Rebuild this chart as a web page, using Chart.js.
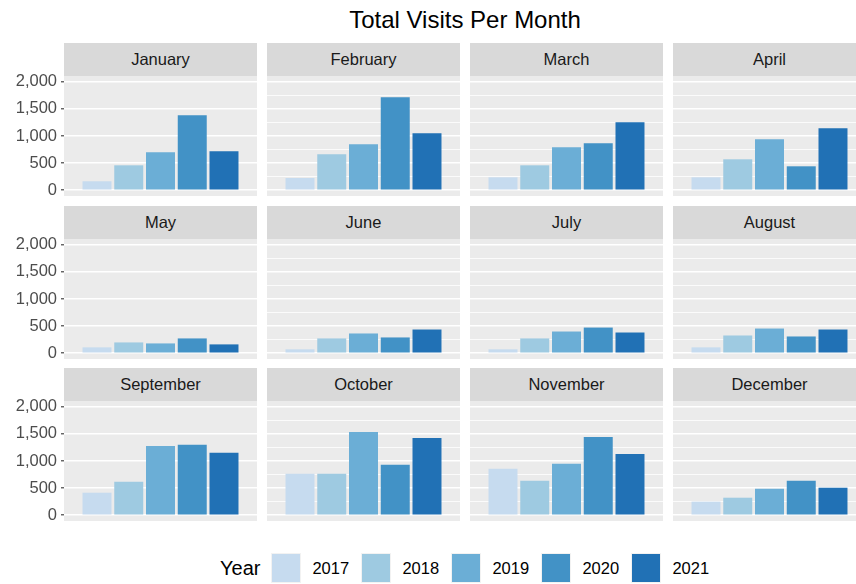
<!DOCTYPE html>
<html>
<head>
<meta charset="utf-8">
<script src="https://cdn.jsdelivr.net/npm/chart.js@4.4.1/dist/chart.umd.min.js"></script>
<style>
  html, body { margin: 0; padding: 0; background: #fff; }
  body { width: 856px; height: 584px; position: relative; overflow: hidden;
         font-family: "Liberation Sans", Arial, sans-serif; }
  #title { position: absolute; left: 64px; width: 802px; top: 6px; text-align: center;
           font-size: 24px; color: #000; }
  .strip { position: absolute; height: 33px; line-height: 33px; background: #D9D9D9;
           color: #1A1A1A; text-align: center; font-size: 16.5px; }
  .panel { position: absolute; height: 140px; }
  #legend { position: absolute; left: 220px; top: 553px; height: 30px; display: flex;
            align-items: center; font-size: 16.5px; color: #000; }
  #legend .lab { font-size: 20px; margin-right: 11px; }
  #legend .key { width: 30px; height: 30px; background: #F2F2F2; position: relative; }
  #legend .key span { position: absolute; left: 1px; top: 1px; right: 1px; bottom: 1px; }
  #legend .txt { margin-left: 11px; margin-right: 12px; width: 37px; }
</style>
</head>
<body>
<div id="title">Total Visits Per Month</div>
<div id="legend"><span class="lab">Year</span></div>
<script>
// --- Datos ---
const months = ["January", "February", "March", "April", "May", "June",
                "July", "August", "September", "October", "November", "December"];
const years = ["2017", "2018", "2019", "2020", "2021"];
const colors = ["#C6DBEF", "#9ECAE1", "#6BAED6", "#4292C6", "#2171B5"];

const visits2017 = [166, 227, 239, 239, 109, 73, 73, 109, 416, 765, 856, 251];
const visits2018 = [460, 663, 460, 571, 200, 274, 274, 328, 618, 765, 636, 324];
const visits2019 = [700, 847, 791, 939, 182, 365, 401, 456, 1278, 1535, 948, 489];
const visits2020 = [1380, 1712, 865, 442, 274, 292, 474, 310, 1297, 930, 1443, 636];
const visits2021 = [718, 1049, 1252, 1141, 164, 438, 383, 438, 1150, 1425, 1131, 508];
const series = [visits2017, visits2018, visits2019, visits2020, visits2021];

const yTicks = [0, 500, 1000, 1500, 2000];
const yMinorTicks = [250, 750, 1250, 1750];

// --- Layout ---
const colLeft = [64, 267, 470, 673];
const stripTop = [43, 206, 368];
const panelW = 193;

const panelBg = {
  id: "panelBg",
  beforeDraw(chart) {
    const a = chart.chartArea;
    chart.ctx.save();
    chart.ctx.fillStyle = "#EBEBEB";
    chart.ctx.fillRect(a.left, a.top, a.right - a.left, a.bottom - a.top);
    chart.ctx.restore();
  }
};

const isMajor = (v) => yTicks.includes(v);

months.forEach((m, i) => {
  const col = i % 4, row = Math.floor(i / 4);
  const first = col === 0;

  const strip = document.createElement("div");
  strip.className = "strip";
  strip.style.left = colLeft[col] + "px";
  strip.style.width = panelW + "px";
  strip.style.top = stripTop[row] + "px";
  strip.textContent = m;
  document.body.appendChild(strip);

  const wrap = document.createElement("div");
  wrap.className = "panel";
  const left = first ? 0 : colLeft[col];
  const width = first ? colLeft[col] + panelW : panelW;
  wrap.style.left = left + "px";
  wrap.style.width = width + "px";
  wrap.style.top = (stripTop[row] + 33 - 10) + "px";
  const canvas = document.createElement("canvas");
  wrap.appendChild(canvas);
  document.body.appendChild(wrap);

  new Chart(canvas, {
    type: "bar",
    data: {
      labels: [m],
      datasets: years.map((y, k) => ({
        label: y,
        data: [series[k][i]],
        backgroundColor: colors[k],
        borderWidth: 0,
        categoryPercentage: 0.8225,
        barPercentage: 0.913
      }))
    },
    options: {
      responsive: true,
      maintainAspectRatio: false,
      animation: false,
      layout: { padding: { top: 10, bottom: 10, left: 0, right: 0 } },
      plugins: { legend: { display: false }, tooltip: { enabled: false } },
      scales: {
        x: { display: false },
        y: {
          min: -105,
          max: 2105,
          afterBuildTicks: (s) => {
            s.ticks = yTicks.concat(yMinorTicks).sort((a, b) => a - b).map(v => ({ value: v }));
          },
          afterFit: (s) => {
            s.width = first ? colLeft[0] : 0;
            s.paddingTop = 0;
            s.paddingBottom = 0;
          },
          border: { display: false },
          grid: {
            color: "#FFFFFF",
            lineWidth: (c) => isMajor(c.tick.value) ? 1.6 : 0.8,
            drawTicks: first,
            tickLength: 3,
            tickColor: (c) => isMajor(c.tick.value) ? "#333333" : "rgba(0,0,0,0)",
            tickWidth: 1.1
          },
          ticks: {
            display: first,
            padding: 4,
            color: "#4D4D4D",
            font: { family: "'Liberation Sans', Arial, sans-serif", size: 16.5 },
            callback: (v) => isMajor(v) ? v.toLocaleString("en-US") : ""
          }
        }
      }
    },
    plugins: [panelBg]
  });
});

// --- Leyenda ---
const legend = document.getElementById("legend");
years.forEach((y, k) => {
  const key = document.createElement("span");
  key.className = "key";
  const fill = document.createElement("span");
  fill.style.background = colors[k];
  key.appendChild(fill);
  const txt = document.createElement("span");
  txt.className = "txt";
  txt.textContent = y;
  legend.appendChild(key);
  legend.appendChild(txt);
});
</script>
</body>
</html>
